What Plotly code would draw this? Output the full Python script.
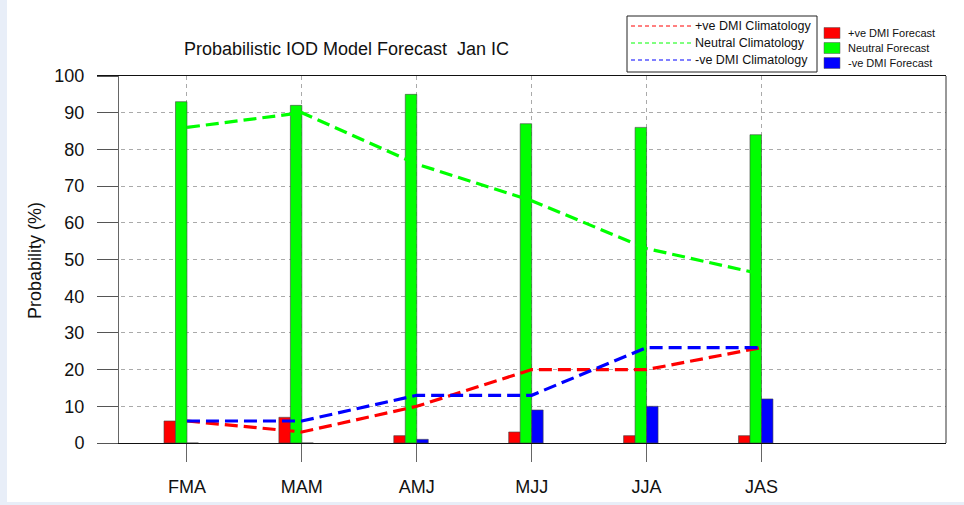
import plotly.graph_objects as go

# Seasons and forecast probabilities (%)
seasons = ["FMA", "MAM", "AMJ", "MJJ", "JJA", "JAS"]
pos_forecast = [6, 7, 2, 3, 2, 2]
neutral_forecast = [93, 92, 95, 87, 86, 84]
neg_forecast = [0, 0, 1, 9, 10, 12]

# Climatological probabilities (%)
pos_clim = [6, 3, 10, 20, 20, 26]
neutral_clim = [86, 90, 76, 66, 53, 46]
neg_clim = [6, 6, 13, 13, 26, 26]

y_ticks = list(range(0, 101, 10))

RED, GREEN, BLUE = "#ff0000", "#00ff00", "#0000ff"
FONT = "Liberation Sans, Arial, Helvetica, sans-serif"

W, H = 964, 505
L, R, T, B = 97, 18, 76, 62
PW, PH = W - L - R, H - T - B


def px(x):
    return (x - L) / PW


def py(y):
    return (H - B - y) / PH


xpos = list(range(len(seasons)))

fig = go.Figure()

bar_line = dict(color="#444444", width=0.6)
for vals, col, off in [(pos_forecast, RED, -0.2), (neutral_forecast, GREEN, -0.1), (neg_forecast, BLUE, 0.0)]:
    fig.add_trace(go.Bar(x=xpos, y=vals, width=0.1, offset=off,
                         marker=dict(color=col, line=bar_line), showlegend=False))

dash = "13px,6px"
for vals, col in [(neutral_clim, GREEN), (pos_clim, RED), (neg_clim, BLUE)]:
    fig.add_trace(go.Scatter(x=xpos, y=vals, mode="lines",
                             line=dict(color=col, width=3.2, dash=dash), showlegend=False))

shapes = []
# page background strips
shapes.append(dict(type="rect", xref="paper", yref="paper", x0=px(0), x1=px(7), y0=py(505), y1=py(0),
                   fillcolor="#e8eef8", line=dict(width=0), layer="below"))
shapes.append(dict(type="rect", xref="paper", yref="paper", x0=px(0), x1=px(964), y0=py(505), y1=py(502),
                   fillcolor="#e8eef8", line=dict(width=0), layer="below"))
# right frame edge
shapes.append(dict(type="line", xref="paper", yref="paper", x0=1, x1=1, y0=0, y1=1,
                   line=dict(color="#333333", width=1)))

# climatology legend box
shapes.append(dict(type="rect", xref="paper", yref="paper", x0=px(627), x1=px(817), y0=py(72), y1=py(16),
                   line=dict(color="#222222", width=1), fillcolor="white"))
annotations = []
clim_rows = [("+ve DMI Climatology", RED, 26), ("Neutral Climatology", GREEN, 43), ("-ve DMI Climatology", BLUE, 60)]
for label, col, yy in clim_rows:
    shapes.append(dict(type="line", xref="paper", yref="paper", x0=px(631), x1=px(693), y0=py(yy), y1=py(yy),
                       line=dict(color=col, width=1, dash="4px,3px")))
    annotations.append(dict(text=label, xref="paper", yref="paper", x=px(693), y=py(yy),
                            xanchor="left", yanchor="middle", showarrow=False,
                            font=dict(family=FONT, size=12.5, color="#111111")))

# forecast legend
fc_rows = [("+ve DMI Forecast", RED, 33), ("Neutral Forecast", GREEN, 48), ("-ve DMI Forecast", BLUE, 63)]
for label, col, yy in fc_rows:
    shapes.append(dict(type="rect", xref="paper", yref="paper", x0=px(824), x1=px(840), y0=py(yy + 5.5), y1=py(yy - 5.5),
                       fillcolor=col, line=dict(color="#555555", width=0.5)))
    annotations.append(dict(text=label, xref="paper", yref="paper", x=px(846), y=py(yy),
                            xanchor="left", yanchor="middle", showarrow=False,
                            font=dict(family=FONT, size=11, color="#111111")))

# title and y-axis title
annotations.append(dict(text="Probabilistic IOD Model Forecast \u00a0Jan IC", xref="paper", yref="paper",
                        x=px(346), y=py(49), xanchor="center", yanchor="middle", showarrow=False,
                        font=dict(family=FONT, size=18, color="#111111")))
annotations.append(dict(text="Probability (%)", xref="paper", yref="paper", x=px(35), y=py(260),
                        xanchor="center", yanchor="middle", textangle=-90, showarrow=False,
                        font=dict(family=FONT, size=18, color="#111111")))

fig.update_layout(
    width=W, height=H, autosize=False,
    margin=dict(l=L, r=R, t=T, b=B, pad=0),
    paper_bgcolor="white", plot_bgcolor="white",
    barmode="overlay",
    font=dict(family=FONT, size=18, color="#111111"),
    shapes=shapes, annotations=annotations,
    xaxis=dict(range=[-0.783, 6.606], tickmode="array", tickvals=xpos, ticktext=seasons,
               showgrid=True, gridcolor="#aaaaaa", griddash="4px,4px", gridwidth=1,
               ticks="outside", ticklen=18, tickcolor="#666666", tickwidth=1,
               showline=True, linecolor="#111111", linewidth=1, mirror=True,
               zeroline=False, ticklabelstandoff=9, automargin=False,
               tickfont=dict(family=FONT, size=18, color="#111111")),
    yaxis=dict(range=[0, 100], tickmode="array", tickvals=y_ticks,
               anchor="free", position=21 / PW,
               showgrid=True, gridcolor="#aaaaaa", griddash="4px,4px", gridwidth=1,
               ticks="outside", ticklen=21, tickcolor="#555555", tickwidth=1,
               showline=True, linecolor="#666666", linewidth=1,
               zeroline=False, ticklabelstandoff=9, automargin=False,
               tickfont=dict(family=FONT, size=18, color="#111111")),
)

fig.write_html("out.html")
